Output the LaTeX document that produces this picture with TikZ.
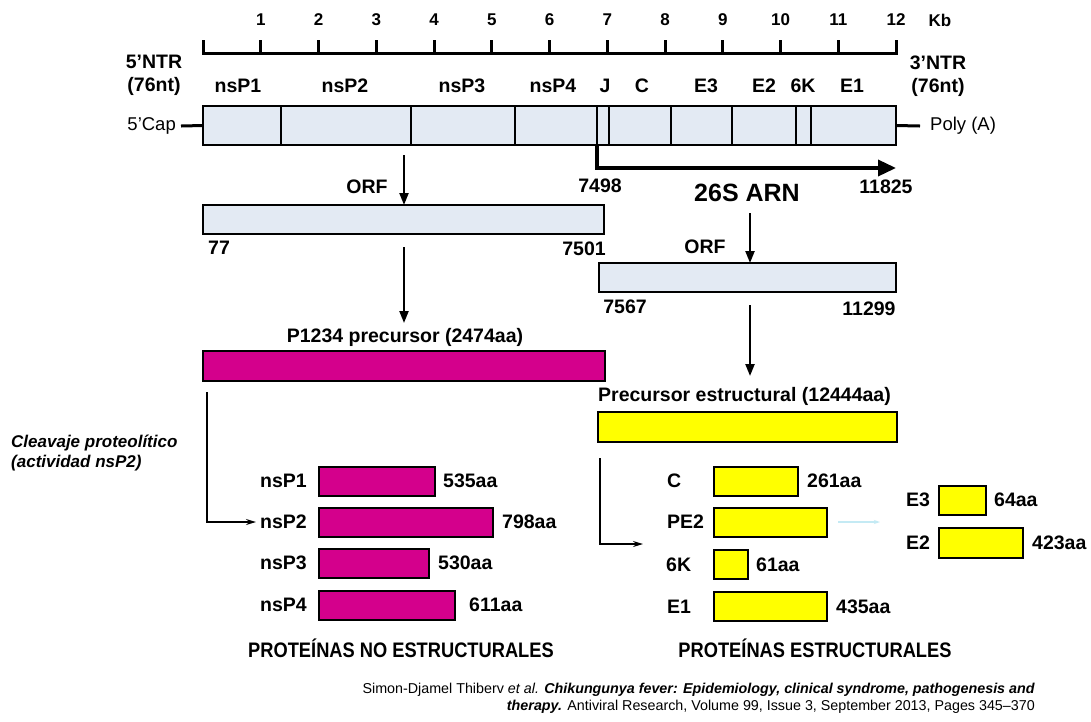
\documentclass[tikz,border=0pt]{standalone}
\usepackage{fontspec}
\setmainfont{Liberation Sans}
\usetikzlibrary{arrows.meta}
\definecolor{gfill}{RGB}{227,234,243}
\definecolor{mag}{RGB}{212,0,140}
\definecolor{yel}{RGB}{255,255,0}
\definecolor{cyanarr}{RGB}{196,234,244}
\newcommand\mkbox[6]{\pgfmathsetmacro\bw{#4-#2}\pgfmathsetmacro\bh{#5-#3}%
  \node[#1,anchor=north west,minimum width=\bw pt,minimum height=\bh pt,inner sep=0pt,outer sep=0pt] (#6) at (#2,#3) {};}
\begin{document}
\begin{tikzpicture}[x=1pt,y=-1pt,
  gbox/.style={draw=black,line width=1.6pt,fill=gfill},
  mbar/.style={draw=black,line width=1.5pt,fill=mag},
  ybar/.style={draw=black,line width=1.5pt,fill=yel},
  tick/.style={font=\fontsize{17}{19}\selectfont\bfseries,inner sep=0pt},
  lbl/.style={font=\fontsize{19.5}{21}\selectfont\bfseries,inner sep=0pt},
  val/.style={font=\fontsize{19.5}{21}\selectfont\bfseries,inner sep=0pt,anchor=west},
  rlbl/.style={font=\fontsize{19.5}{21}\selectfont\bfseries,inner sep=0pt,anchor=west},
  reg/.style={font=\fontsize{18.5}{20}\selectfont,inner sep=0pt},
  arr/.style={line width=2.2pt,-{Triangle[length=12pt,width=9pt]}},
  thinarr/.style={line width=1.3pt,-{Stealth[length=10pt,width=6pt]}},
  title/.style={font=\fontsize{21}{23}\selectfont\bfseries,inner sep=0pt},
  cite/.style={font=\fontsize{14.3}{16}\selectfont,inner sep=0pt,anchor=east}]
\useasboundingbox[fill=white] (0,0) rectangle (1091,721);

% ruler
\draw[line width=3pt] (203,40) -- (203,53) -- (896,53) -- (896,40);
\foreach \k in {1,...,11}{\draw[line width=3pt] ({203+57.75*\k},40) -- ({203+57.75*\k},53);}
\foreach \k in {1,...,12}{\node[tick] (t\k) at ({203+57.75*\k},20) {\k};}
\node[tick] (kb) at (940,20) {Kb};

% end labels
\node[lbl] (ntr5) at (154,62) {5'NTR};
\node[lbl] (nt5) at (154,86) {(76nt)};
\node[lbl] (ntr3) at (938,63) {3'NTR};
\node[lbl] (nt3) at (938,87) {(76nt)};

% gene labels
\node[lbl] (lnsp1) at (238,86) {nsP1};
\node[lbl] (lnsp2) at (345,86) {nsP2};
\node[lbl] (lnsp3) at (462,86) {nsP3};
\node[lbl] (lnsp4) at (553,86) {nsP4};
\node[lbl] (lj) at (605,86) {J};
\node[lbl] (lc) at (642,86) {C};
\node[lbl] (le3) at (706,86) {E3};
\node[lbl] (le2) at (764,86) {E2};
\node[lbl] (l6k) at (803,86) {6K};
\node[lbl] (le1) at (852,86) {E1};

% genome
\mkbox{gbox}{203}{106}{896}{145}{gen}
\foreach \xx in {281,411,515,597,609,671,732,796,811}{\draw[line width=1.6pt] (\xx,106) -- (\xx,145);}
\node[reg,anchor=east] (cap) at (176,126) {5’Cap};
\draw[line width=3pt] (cap.east) ++(5,0) coordinate (capl) -- (gen.west);
\node[reg,anchor=west] (poly) at (930,126) {Poly (A)};
\coordinate (polyl) at (920,126);
\draw[line width=3pt] (gen.east) -- (polyl);

% 26S arrow
\coordinate (s26a) at (597,145);
\coordinate (s26b) at (597,168);
\coordinate (s26c) at (896,168);
\draw[line width=3.5pt,-{Triangle[length=18pt,width=16pt]}] (s26a) -- (s26b) -- (s26c);
\node[lbl] (n7498) at (600,186) {7498};
\node[lbl] (n11825) at (886,187) {11825};
\node[font=\fontsize{25}{27}\selectfont\bfseries,inner sep=0pt] (arn) at (747,193) {26S ARN};

% left ORF
\coordinate (o1s) at (404,155);
\mkbox{gbox}{203}{205}{604}{234}{orfL}
\draw[arr] (o1s) -- (o1s |- orfL.north);
\node[lbl] (orf1) at (367,187) {ORF};
\node[lbl] (n77) at (219,248) {77};
\node[lbl] (n7501) at (584,249) {7501};

% right ORF
\coordinate (o2s) at (750,213);
\mkbox{gbox}{599}{263}{896}{292}{orfR}
\draw[arr] (o2s) -- (o2s |- orfR.north);
\node[lbl] (orf2) at (705,247) {ORF};
\node[lbl] (n7567) at (625,307) {7567};
\node[lbl] (n11299) at (869,309) {11299};

% precursors
\coordinate (a3s) at (404,247);
\coordinate (a3e) at (404,323);
\draw[arr] (a3s) -- (a3e);
\node[lbl] (p1234) at (405,337) {P1234 precursor (2474aa)};
\mkbox{mbar}{203}{351}{605}{381}{pbar}

\coordinate (a4s) at (750,305);
\coordinate (a4e) at (750,376);
\draw[arr] (a4s) -- (a4e);
\node[lbl,anchor=west] (pest) at (598,396) {Precursor estructural (12444aa)};
\mkbox{ybar}{598}{412}{897}{442}{ybarP}

% cleavage text
\node[font=\fontsize{17}{19}\selectfont\bfseries\itshape,inner sep=0pt,anchor=west] (clv1) at (11,443) {Cleavaje proteolítico};
\node[font=\fontsize{17}{19}\selectfont\bfseries\itshape,inner sep=0pt,anchor=west] (clv2) at (11,463) {(actividad nsP2)};

% nonstructural proteins
\mkbox{mbar}{319}{467}{435}{496}{b1}
\mkbox{mbar}{319}{508}{493}{537}{b2}
\mkbox{mbar}{319}{549}{429}{578}{b3}
\mkbox{mbar}{319}{591}{455}{620}{b4}
\node[lbl,anchor=east] (nsp1) at (307,481) {nsP1};
\node[lbl,anchor=east] (nsp2) at (307,522) {nsP2};
\node[lbl,anchor=east] (nsp3) at (307,563) {nsP3};
\node[lbl,anchor=east] (nsp4) at (307,605) {nsP4};
\node[val] (v1) at (443,481) {535aa};
\node[val] (v2) at (502,522) {798aa};
\node[val] (v3) at (438,563) {530aa};
\node[val] (v4) at (469,605) {611aa};
\coordinate (c1a) at (207,392);
\coordinate (c1b) at (207,522);
\draw[thinarr] (c1a) -- (c1b) -- ([xshift=-4pt]nsp2.west);

% structural proteins
\mkbox{ybar}{714}{467}{798}{496}{sc}
\mkbox{ybar}{714}{508}{827}{537}{spe2}
\mkbox{ybar}{714}{550}{748}{579}{s6k}
\mkbox{ybar}{714}{592}{827}{621}{se1}
\node[rlbl] (lsc) at (667,481) {C};
\node[rlbl] (lspe2) at (667,522) {PE2};
\node[rlbl] (ls6k) at (666,565) {6K};
\node[rlbl] (lse1) at (667,607) {E1};
\node[val] (vc) at (807,481) {261aa};
\node[val] (v6k) at (756,565) {61aa};
\node[val] (ve1) at (836,607) {435aa};
\mkbox{ybar}{939}{486}{986}{515}{se3}
\mkbox{ybar}{939}{528}{1023}{558}{se2}
\node[rlbl] (lse3) at (906,500) {E3};
\node[rlbl] (lse2) at (906,543) {E2};
\node[val] (ve3) at (994,500) {64aa};
\node[val] (ve2) at (1032,543) {423aa};
\coordinate (cy1) at (838,522);
\coordinate (cy2) at (880,522);
\draw[cyanarr,line width=1.2pt,-{Stealth[length=6pt,width=4pt]}] (cy1) -- (cy2);
\coordinate (c2a) at (600,458);
\coordinate (c2b) at (600,544);
\coordinate (c2c) at (643,544);
\draw[thinarr] (c2a) -- (c2b) -- (c2c);

% titles
\node[title] (tno) at (401,648) {\scalebox{0.87}[1]{PROTEÍNAS NO ESTRUCTURALES}};
\node[title] (tes) at (815,648) {\scalebox{0.87}[1]{PROTEÍNAS ESTRUCTURALES}};

% citation
\node[cite] (cit1) at (1035,690) {Simon-Djamel Thiberv \textit{et al.} \textbf{\textit{Chikungunya fever: Epidemiology, clinical syndrome, pathogenesis and}}};
\node[cite] (cit2) at (1035,707) {\textbf{\textit{therapy.}} Antiviral Research, Volume 99, Issue 3, September 2013, Pages 345–370};
\end{tikzpicture}
\end{document}
